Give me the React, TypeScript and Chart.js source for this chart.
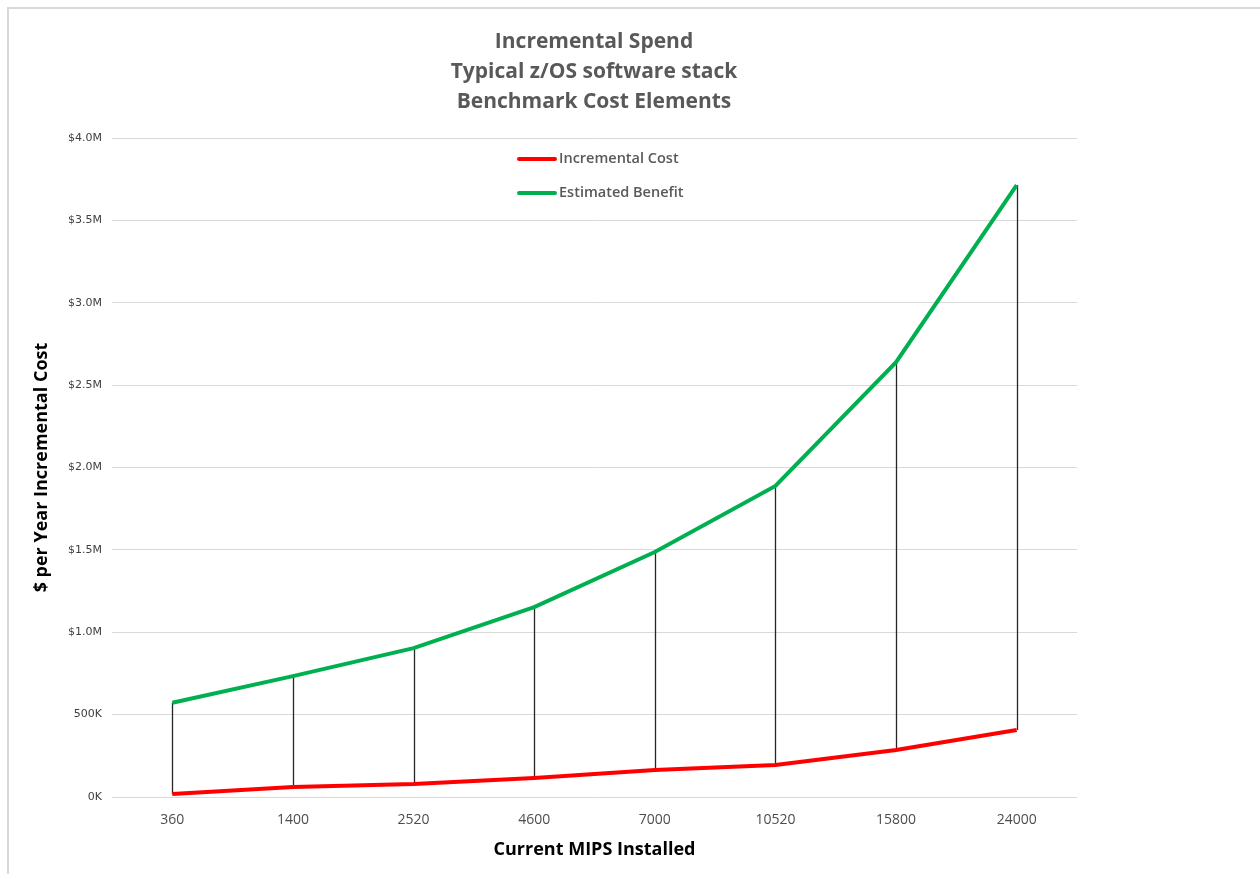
import React, { useEffect, useRef } from "react";
import { Chart, registerables } from "chart.js";

Chart.register(...registerables);

const categories = ["360", "1400", "2520", "4600", "7000", "10520", "15800", "24000"];
const incrementalCost = [18000, 60000, 79000, 115000, 164000, 194000, 285000, 407000];
const estimatedBenefit = [572000, 734000, 904000, 1153000, 1487000, 1888000, 2640000, 3715000];
const yTickValues = [0, 500000, 1000000, 1500000, 2000000, 2500000, 3000000, 3500000, 4000000];
const yTickLabels = ["0K", "500K", "$1.0M", "$1.5M", "$2.0M", "$2.5M", "$3.0M", "$3.5M", "$4.0M"];
const titleLines = ["Incremental Spend", "Typical z/OS software stack", "Benchmark Cost Elements"];
const seriesNames = ["Incremental Cost", "Estimated Benefit"];
const seriesColors = ["#ff0000", "#00b050"];

const dropLines = {
  id: "dropLines",
  beforeDatasetsDraw(chart: any) {
    const a = chart.getDatasetMeta(0).data;
    const b = chart.getDatasetMeta(1).data;
    const ctx = chart.ctx;
    ctx.save();
    ctx.strokeStyle = "#262626";
    ctx.lineWidth = 1.3;
    for (let i = 0; i < a.length; i++) {
      ctx.beginPath();
      ctx.moveTo(Math.round(a[i].x) + 0.5, a[i].y);
      ctx.lineTo(Math.round(b[i].x) + 0.5, b[i].y);
      ctx.stroke();
    }
    ctx.restore();
  },
};

const customLegend = {
  id: "customLegend",
  afterDraw(chart: any) {
    const ctx = chart.ctx;
    ctx.save();
    const x0 = 510;
    const ys = [150, 184];
    ctx.font = "600 14.5px 'Open Sans'";
    ctx.textBaseline = "middle";
    chart.data.datasets.forEach((ds: any, i: number) => {
      ctx.strokeStyle = ds.borderColor;
      ctx.lineWidth = 4;
      ctx.lineCap = "round";
      ctx.beginPath();
      ctx.moveTo(x0, ys[i]);
      ctx.lineTo(x0 + 36, ys[i]);
      ctx.stroke();
      ctx.fillStyle = "#595959";
      ctx.fillText(ds.label, x0 + 40, ys[i]);
    });
    ctx.restore();
  },
};

export default function App() {
  const ref = useRef<HTMLCanvasElement | null>(null);
  useEffect(() => {
    if (!ref.current) return;
    const chart = new Chart(ref.current, {
      type: "line",
      data: {
        labels: categories,
        datasets: [
          {
            label: seriesNames[0],
            data: incrementalCost,
            borderColor: seriesColors[0],
            backgroundColor: seriesColors[0],
            borderWidth: 4,
            pointRadius: 0,
            tension: 0,
          },
          {
            label: seriesNames[1],
            data: estimatedBenefit,
            borderColor: seriesColors[1],
            backgroundColor: seriesColors[1],
            borderWidth: 4,
            pointRadius: 0,
            tension: 0,
          },
        ],
      },
      options: {
        animation: false,
        responsive: false,
        layout: { padding: { left: 0, right: 0, top: 0, bottom: 0 } },
        plugins: {
          legend: { display: false },
          tooltip: { enabled: false },
          title: {
            display: true,
            text: titleLines,
            color: "#595959",
            font: { family: "'Open Sans'", size: 21, weight: "bold", lineHeight: 1.43 },
            padding: { top: 18, bottom: 21 },
          },
        },
        scales: {
          x: {
            offset: true,
            grid: { display: false, drawTicks: false },
            border: { display: false },
            ticks: {
              color: "#4d4d4d",
              font: { family: "'Open Sans'", size: 14 },
              padding: 15,
              maxRotation: 0,
            },
            title: {
              display: true,
              text: "Current MIPS Installed",
              color: "#000000",
              font: { family: "'Open Sans'", size: 18, weight: "bold", lineHeight: 1.2 },
              padding: { top: 0, bottom: 13 },
            },
            afterFit(scale: any) {
              scale.height = 77;
            },
          },
          y: {
            min: 0,
            max: 4000000,
            grid: { color: "#d9d9d9", lineWidth: 1, drawTicks: false },
            border: { display: false },
            afterBuildTicks(scale: any) {
              scale.ticks = yTickValues.map((v) => ({ value: v }));
            },
            ticks: {
              color: "#404040",
              font: { family: "'DejaVu Sans'", size: 11 },
              padding: 10,
              callback: (v: any) => {
                const i = yTickValues.indexOf(Number(v));
                return i >= 0 ? yTickLabels[i] : "";
              },
            },
            title: {
              display: true,
              text: "$ per Year Incremental Cost",
              color: "#000000",
              font: { family: "'Open Sans'", size: 18, weight: "bold", lineHeight: 1.2 },
              padding: { top: 22, bottom: 0 },
            },
            afterFit(scale: any) {
              scale.width = 103;
            },
          },
          yRight: {
            position: "right",
            min: 0,
            max: 4000000,
            grid: { display: false, drawTicks: false },
            border: { display: false },
            ticks: { display: false },
            afterFit(scale: any) {
              scale.width = 102;
            },
          },
        },
      },
      plugins: [dropLines, customLegend],
    } as any);
    return () => chart.destroy();
  }, []);
  return (
    <div
      style={{
        position: "absolute",
        left: 7,
        top: 7,
        width: 1253,
        height: 867,
        borderTop: "2px solid #d9d9d9",
        borderLeft: "2px solid #d9d9d9",
        background: "#fff",
      }}
    >
      <canvas ref={ref} width={1170} height={865} style={{ display: "block" }} />
    </div>
  );
}
